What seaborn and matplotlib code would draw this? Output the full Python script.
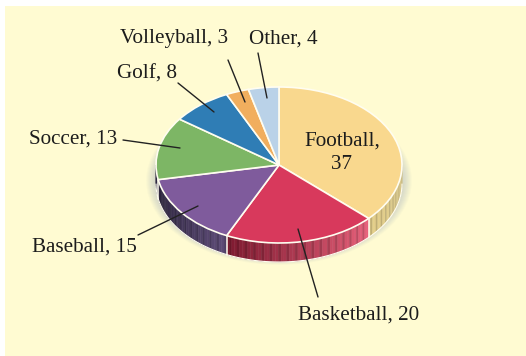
import numpy as np
import matplotlib
matplotlib.use("Agg")
import matplotlib.pyplot as plt
from matplotlib.patches import Ellipse, Polygon, Rectangle
import seaborn as sns

sports = ["Football", "Basketball", "Baseball", "Soccer", "Golf", "Volleyball", "Other"]
counts = [37, 20, 15, 13, 8, 3, 4]
top_colors = ["#F9D88E", "#D8395C", "#7F5B9C", "#7DB665", "#2F7DB5", "#F1AE5E", "#BAD2E8"]
rim_dark = ["#E6D08A", "#7E1A30", "#272038", "#272038", "#1B4A70", "#A06A30", "#7A8FA5"]
rim_light = ["#D9C98E", "#E8607A", "#5E4C78", "#3A3350", "#1B4A70", "#A06A30", "#7A8FA5"]

label_texts = ["Volleyball, 3", "Other, 4", "Golf, 8", "Soccer, 13", "Baseball, 15", "Basketball, 20"]
label_px = [(174, 39), (283, 39), (147, 74), (73, 139), (84, 247), (359, 315)]
leader_start_px = [(228, 60), (258, 53), (178, 83), (123, 140), (138, 235), (318, 297)]
leader_end_px = [(245, 102), (267, 98), (214, 112), (180, 148), (198, 206), (298, 229)]

W, H = 526, 356
CX, CY, RX, RY, DEPTH = 279, 165, 123, 78, 19


def to_pie(p):
    return (p[0] - CX) / RX, (CY - p[1]) / RY


sns.set_theme(style="white")
plt.rcParams["font.family"] = ["Liberation Serif", "DejaVu Serif"]

fig = plt.figure(figsize=(W / 100, H / 100), dpi=100, facecolor="white")
ax = fig.add_axes([0, 0, 1, 1])

# Cream panel behind the chart
x0, y0 = to_pie((5, 6))
x1, y1 = to_pie((W, H))
ax.add_patch(Rectangle((x0, y1), x1 - x0, y0 - y1, fc="#FFFBD2", ec="none", zorder=0))

# Soft shadow below the disc
for s in np.linspace(1.08, 0.96, 16):
    ax.add_patch(Ellipse((0, -0.20), 2 * s, 2 * s, fc="#7C8FB5", ec="none", alpha=0.035, zorder=1))

# Pie top; the y scale flattens the circle into an ellipse
wedges, _ = ax.pie(counts, colors=top_colors, startangle=90, counterclock=False, radius=1,
                   wedgeprops=dict(edgecolor="#FFFDF0", linewidth=1.2, zorder=4))

# Side wall of the disc, drawn in narrow shaded strips
depth = DEPTH / RY
edges = 90 - np.cumsum([0] + counts) * 360 / sum(counts)
for i in range(len(counts)):
    a_hi, a_lo = edges[i], edges[i + 1]
    a_hi_n = a_hi if a_hi <= 0 else 0
    a_lo_n = max(a_lo, -180)
    if a_hi_n <= a_lo_n:
        continue
    n = max(2, int((a_hi_n - a_lo_n) / 1.3))
    pal = sns.blend_palette([rim_dark[i], rim_light[i]], n)
    steps = np.linspace(a_lo_n, a_hi_n, n + 1)
    for k in range(n):
        t = np.radians(np.linspace(steps[k], steps[k + 1], 4))
        xs, ys = np.cos(t), np.sin(t)
        shade = 0.84 if k % 3 == 1 else 1.0
        col = np.clip(np.array(pal[k]) * shade, 0, 1)
        pts = np.r_[np.c_[xs, ys], np.c_[xs, ys - depth][::-1]]
        ax.add_patch(Polygon(pts, fc=col, ec=col, lw=0.3, zorder=2))
    # pale seam where two slices meet on the wall
    if a_lo >= -180:
        ct, st = np.cos(np.radians(a_lo)), np.sin(np.radians(a_lo))
        ax.plot([ct, ct], [st, st - depth], color="#FFFDF0", lw=1.1, zorder=3)

# Lower outline of the wall
t = np.radians(np.linspace(-180, 0, 120))
ax.plot(np.cos(t), np.sin(t) - depth, color="#FFFDF0", lw=0.8, zorder=3)

ax.set_aspect("auto")
ax.set_xlim(-CX / RX, (W - CX) / RX)
ax.set_ylim((CY - H) / RY, CY / RY)
ax.axis("off")
sns.despine(ax=ax, left=True, bottom=True)

# Outer labels and their leader lines
for text, pos, a, b in zip(label_texts, label_px, leader_start_px, leader_end_px):
    px, py = to_pie(pos)
    ax.text(px, py, text, ha="center", va="center", fontsize=15.2, color="#1c1c1c", zorder=6)
    pa, pb = to_pie(a), to_pie(b)
    ax.plot([pa[0], pb[0]], [pa[1], pb[1]], color="#222222", lw=1.0, zorder=5)

# The largest slice carries its label inside
fx, fy = to_pie((342, 153))
ax.text(fx, fy, f"{sports[0]},\n{counts[0]}", ha="center", va="center", fontsize=15.2,
        color="#1c1c1c", linespacing=1.3, zorder=6)

fig.savefig("out.png", dpi=100, facecolor=fig.get_facecolor())
